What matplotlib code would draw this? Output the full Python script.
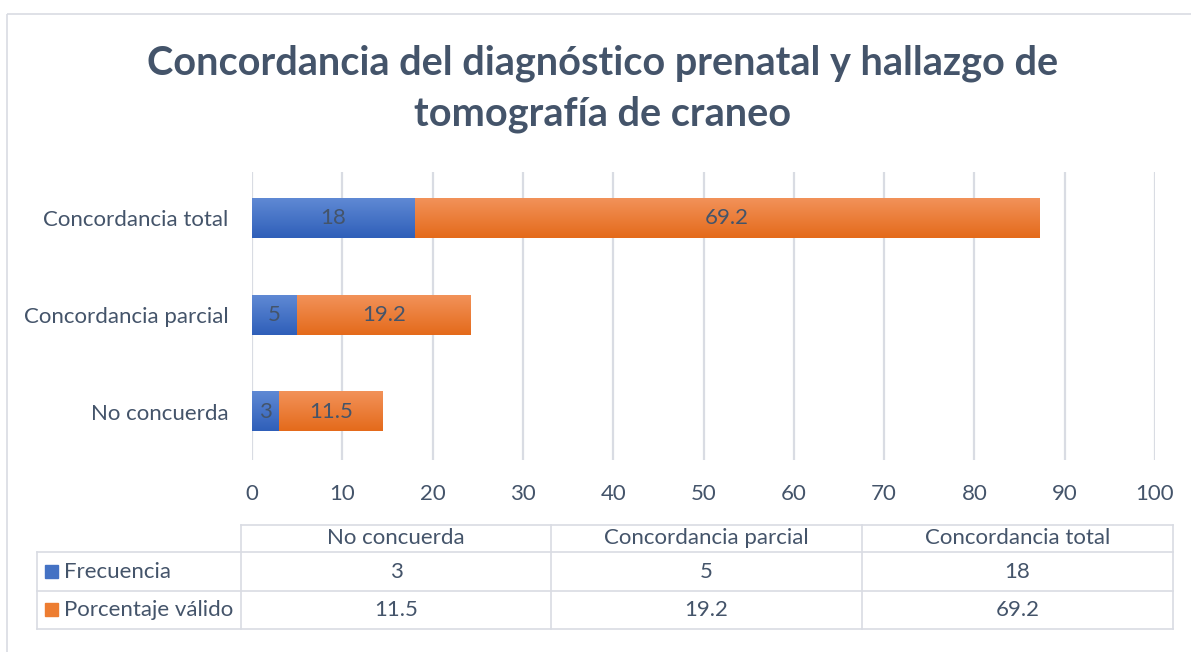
import numpy as np
import matplotlib
matplotlib.use("Agg")
import matplotlib.pyplot as plt
from matplotlib.patches import Rectangle

# data
categorias = ["No concuerda", "Concordancia parcial", "Concordancia total"]
frecuencia = [3, 5, 18]
porcentaje = [11.5, 19.2, 69.2]
series = ["Frecuencia", "Porcentaje válido"]
x_ticks = [0, 10, 20, 30, 40, 50, 60, 70, 80, 90, 100]

texto = "#44546A"
rejilla = "#D9DCE3"
azul = ("#5F89D4", "#2F5FB9")
naranja = ("#F29259", "#E46A1B")
fs = 16

plt.rcParams['font.family'] = ['Lato', 'DejaVu Sans']

W, H = 1191, 652
fig = plt.figure(figsize=(W / 100, H / 100), dpi=100)

# frame + table drawn in pixel coords
bg = fig.add_axes([0, 0, 1, 1])
bg.set_xlim(0, W)
bg.set_ylim(H, 0)
bg.axis("off")
bg.add_patch(Rectangle((7, 14), 1200, 700, fill=False, edgecolor=rejilla, lw=1.2))

bg.text(603, 63, "Concordancia del diagnóstico prenatal y hallazgo de",
        ha="center", va="center", fontsize=28.5, fontweight="bold", color=texto)
bg.text(603, 114, "tomografía de craneo",
        ha="center", va="center", fontsize=28.5, fontweight="bold", color=texto)

ax = fig.add_axes([252 / W, 1 - 460 / H, (1155 - 252) / W, (460 - 172) / H])
ax.set_zorder(2)
ax.patch.set_alpha(0)
pos = np.arange(len(categorias))
b1 = ax.barh(pos, frecuencia, height=0.405, color="none")
b2 = ax.barh(pos, porcentaje, left=frecuencia, height=0.405, color="none")

grad = np.linspace(0, 1, 64).reshape(-1, 1)
for bars, (c_top, c_bot) in ((b1, azul), (b2, naranja)):
    cmap = matplotlib.colors.LinearSegmentedColormap.from_list("g", [c_top, c_bot])
    for r in bars:
        x0, y0 = r.get_x(), r.get_y()
        w, h = r.get_width(), r.get_height()
        ax.imshow(grad, cmap=cmap, aspect="auto", extent=(x0, x0 + w, y0, y0 + h),
                  origin="upper", zorder=2)

for bars, vals in ((b1, frecuencia), (b2, porcentaje)):
    for r, v in zip(bars, vals):
        ax.text(r.get_x() + r.get_width() / 2, r.get_y() + r.get_height() / 2,
                f"{v:g}", ha="center", va="center", fontsize=fs, color=texto, zorder=3)

ax.set_xlim(0, 100)
ax.set_ylim(-0.5, 2.48)
ax.set_xticks(x_ticks)
ax.set_yticks(pos)
ax.set_yticklabels(categorias)
ax.grid(axis="x", color=rejilla, lw=1.6)
ax.set_axisbelow(True)
for s in ax.spines.values():
    s.set_visible(False)
ax.tick_params(axis="both", length=0, labelsize=fs, labelcolor=texto)
ax.tick_params(axis="x", pad=17)
ax.tick_params(axis="y", pad=17)

# data table
cols = [241, 551, 862, 1173]
rows = [525, 552, 591, 629]
lw = 1.2
bg.plot([cols[0], cols[-1]], [rows[0], rows[0]], color=rejilla, lw=lw)
for y in rows[1:]:
    bg.plot([37, cols[-1]], [y, y], color=rejilla, lw=lw)
for x in cols:
    bg.plot([x, x], [rows[0], rows[-1]], color=rejilla, lw=lw)
bg.plot([37, 37], [rows[1], rows[-1]], color=rejilla, lw=lw)

for i, cat in enumerate(categorias):
    cx = (cols[i] + cols[i + 1]) / 2
    bg.text(cx, (rows[0] + rows[1]) / 2, cat, ha="center", va="center",
            fontsize=fs, color=texto)
    bg.text(cx, (rows[1] + rows[2]) / 2, f"{frecuencia[i]:g}", ha="center",
            va="center", fontsize=fs, color=texto)
    bg.text(cx, (rows[2] + rows[3]) / 2, f"{porcentaje[i]:g}", ha="center",
            va="center", fontsize=fs, color=texto)

for j, (name, col) in enumerate(zip(series, ("#4472C4", "#ED7D31"))):
    yc = (rows[j + 1] + rows[j + 2]) / 2
    bg.add_patch(Rectangle((45, yc - 7), 13, 13, color=col))
    bg.text(64, yc, name, ha="left", va="center", fontsize=fs, color=texto)

fig.savefig("out.png", dpi=100)
